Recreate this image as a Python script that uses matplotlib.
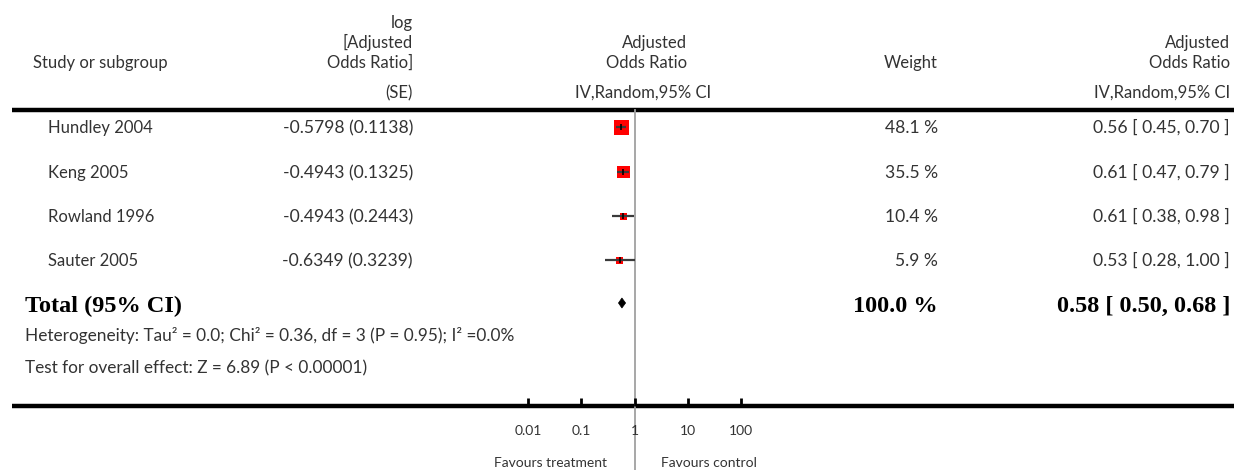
import numpy as np
import matplotlib
matplotlib.use("Agg")
import matplotlib.pyplot as plt
from matplotlib.patches import Polygon
from matplotlib.ticker import FixedLocator, FixedFormatter, NullLocator

# ---------------- data ----------------
studies = ["Hundley 2004", "Keng 2005", "Rowland 1996", "Sauter 2005"]
log_or = ["-0.5798", "-0.4943", "-0.4943", "-0.6349"]
se = ["0.1138", "0.1325", "0.2443", "0.3239"]
weights = [48.1, 35.5, 10.4, 5.9]
or_est = [0.56, 0.61, 0.61, 0.53]
ci_low = [0.45, 0.47, 0.38, 0.28]
ci_high = [0.70, 0.79, 0.98, 1.00]
total_weight = 100.0
total_est = 0.58
total_low = 0.50
total_high = 0.68
heterogeneity = "Heterogeneity: Tau\u00b2 = 0.0; Chi\u00b2 = 0.36, df = 3 (P = 0.95); I\u00b2 =0.0%"
overall = "Test for overall effect: Z = 6.89 (P < 0.00001)"
tick_values = [0.01, 0.1, 1, 10, 100]
tick_labels = ["0.01", "0.1", "1", "10", "100"]
favours_left = "Favours treatment"
favours_right = "Favours control"

# ---------------- layout ----------------
W, H = 1234, 470
FONT = "Lato"
TXT = "#333333"
fig = plt.figure(figsize=(W / 100, H / 100), dpi=100)

# overlay axes in pixel coordinates
ov = fig.add_axes([0, 0, 1, 1])
ov.set_xlim(0, W)
ov.set_ylim(H, 0)
ov.axis("off")

# forest axes: log scale, 0.01 at x=528, 100 at x=741
fx0, fx1 = 528, 741
fa = fig.add_axes([fx0 / W, 0, (fx1 - fx0) / W, 1])
fa.set_xscale("log")
fa.set_xlim(0.01, 100)
fa.set_ylim(H, 0)
fa.patch.set_alpha(0)
for s in ["top", "left", "right", "bottom"]:
    fa.spines[s].set_visible(False)
fa.spines["bottom"].set_position(("data", 406))
fa.yaxis.set_major_locator(NullLocator())
fa.xaxis.set_major_locator(FixedLocator(tick_values))
fa.xaxis.set_major_formatter(FixedFormatter(tick_labels))
fa.xaxis.set_minor_locator(NullLocator())
fa.tick_params(axis="x", direction="in", length=6, width=2, color="black",
               pad=14, labelsize=10, labelcolor=TXT)
for lab in fa.get_xticklabels():
    lab.set_fontfamily(FONT)

fs = 12
fs_num = 12.6

def t(x, y, s, ha="left", size=fs, **kw):
    kw.setdefault("color", TXT)
    kw.setdefault("family", FONT)
    ov.text(x, y, s, ha=ha, va="baseline", fontsize=size, **kw)

# headers
t(33, 68, "Study or subgroup")
t(413, 28, "log", ha="right")
t(413, 48, "[Adjusted", ha="right")
t(413, 68, "Odds Ratio]", ha="right")
t(413, 98, "(SE)", ha="right")
t(687, 48, "Adjusted", ha="right")
t(687, 68, "Odds Ratio", ha="right")
t(643, 98, "IV,Random,95% CI", ha="center")
t(938, 68, "Weight", ha="right")
t(1230, 48, "Adjusted", ha="right")
t(1230, 68, "Odds Ratio", ha="right")
t(1230, 98, "IV,Random,95% CI", ha="right")

# thick rules
ov.plot([12, W], [110, 110], color="black", lw=3.2, solid_capstyle="butt")
ov.plot([12, W], [406, 406], color="black", lw=3.2, solid_capstyle="butt")

# line of no effect
fa.plot([1, 1], [110, H], color="#a0a0a0", lw=1.3, clip_on=False, zorder=1)

# rows
row_y = [127, 172, 216, 260]
max_side = 15.0
for i, name in enumerate(studies):
    y = row_y[i]
    t(48, y + 6, name)
    t(413, y + 6, f"{log_or[i]} ({se[i]})", ha="right", size=fs_num)
    t(938, y + 6, f"{weights[i]:.1f} %", ha="right", size=fs_num)
    t(1230, y + 6, f"{or_est[i]:.2f} [ {ci_low[i]:.2f}, {ci_high[i]:.2f} ]",
      ha="right", size=fs_num)
    side = max(7.0, max_side * np.sqrt(weights[i] / max(weights)))
    fa.scatter([or_est[i]], [y], marker="s", s=(side * 0.72) ** 2,
               color="#ff0000", edgecolors="none", zorder=3)
    fa.hlines(y, ci_low[i], ci_high[i], color="#3a3a3a", lw=1.6, zorder=4)
    fa.scatter([or_est[i]], [y], marker="|", s=(6 * 0.72) ** 2,
               color="black", linewidths=1.2, zorder=5)

# total
ty = 303
bold = dict(va="baseline", fontsize=17.5, fontweight="bold",
            family="Liberation Serif", color="black")
ov.text(25, ty + 9, "Total (95% CI)", ha="left", **bold)
ov.text(938, ty + 9, f"{total_weight:.1f} %", ha="right", **bold)
ov.text(1230, ty + 9, f"{total_est:.2f} [ {total_low:.2f}, {total_high:.2f} ]",
        ha="right", **bold)
dia = Polygon([[total_low, ty], [total_est, ty - 5], [total_high, ty], [total_est, ty + 5]],
              closed=True, facecolor="black", edgecolor="black", lw=0.5, zorder=5)
fa.add_patch(dia)

t(25, 341, heterogeneity, size=12.4)
t(25, 373, overall, size=12.4)

# favours labels
fa.text(0.307, 467, favours_left, ha="right", va="baseline", fontsize=10,
        family=FONT, color=TXT)
fa.text(3.17, 467, favours_right, ha="left", va="baseline", fontsize=10,
        family=FONT, color=TXT)

fig.savefig("out.png", dpi=100)
